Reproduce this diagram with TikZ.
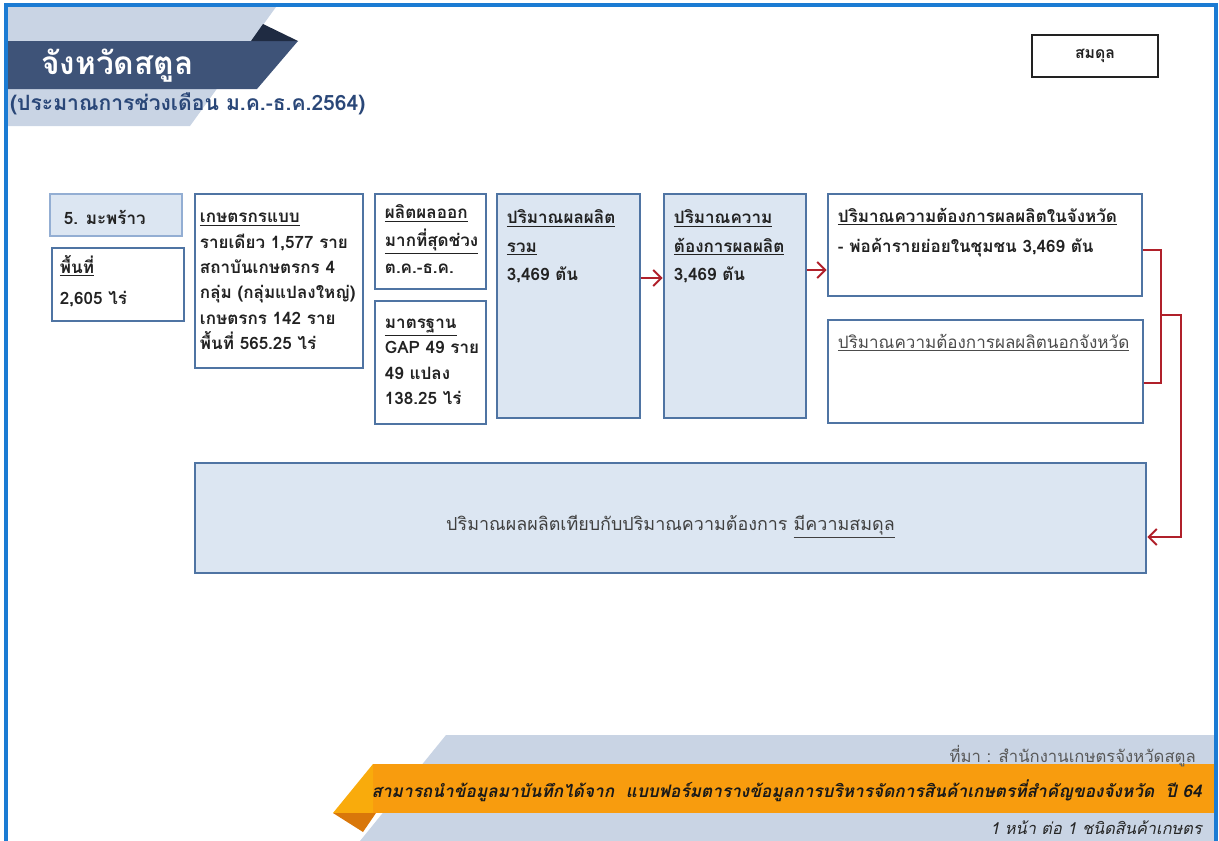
\documentclass[tikz,border=0pt]{standalone}
\usepackage{fontspec}
\newfontfamily\thaifont[Script=Thai]{Loma}
\usetikzlibrary{arrows.meta,fit}

\definecolor{framebl}{HTML}{1B7BD3}
\definecolor{bandlight}{HTML}{C9D4E4}
\definecolor{banddark}{HTML}{3E5378}
\definecolor{bandnavy}{HTML}{1F2B42}
\definecolor{subblue}{HTML}{2A4778}
\definecolor{boxbl}{HTML}{4F74A3}
\definecolor{boxpale}{HTML}{93AED3}
\definecolor{boxfill}{HTML}{DCE6F2}
\definecolor{flowred}{HTML}{B0202A}
\definecolor{txtdark}{HTML}{222222}
\definecolor{bannerorg}{HTML}{F89C0E}
\definecolor{bannerfold}{HTML}{D9770A}

\newcommand\hdr[1]{\underline{#1}}

\begin{document}
\begin{tikzpicture}[x=0.2mm, y=-0.2mm,
	every node/.style={font=\thaifont},
	box/.style={draw=boxbl, line width=1.6pt, fill=white, inner sep=0pt},
	shadebox/.style={box, fill=boxfill},
	boxtxt/.style={anchor=north west, inner sep=0pt, align=left, text=txtdark, font=\thaifont\bfseries\fontsize{9.7}{14.5}\selectfont, execute at begin node=\rule{0pt}{11pt}},
	flowline/.style={draw=flowred, line width=1.1pt},
	flow/.style={flowline, -{Straight Barb[length=1.6mm, width=3.2mm]}}]
	\useasboundingbox (0,0) rectangle (1219,841);
	
	% title banner
	\fill[bandlight] (7,7) -- (276,7) -- (190,126) -- (7,126) -- cycle;
	\fill[banddark] (7,41) -- (298,41) -- (257,89) -- (7,89) -- cycle;
	\fill[bandnavy] (251,41) -- (263,24) -- (298,41) -- cycle;
	\node[anchor=west, text=white, font=\thaifont\bfseries\fontsize{18}{22}\selectfont] (title) at (35,66) {จังหวัดสตูล};
	\node[anchor=west, text=subblue, font=\thaifont\bfseries\fontsize{12}{14}\selectfont] (period) at (4,104) {(ประมาณการช่วงเดือน ม.ค.-ธ.ค.2564)};
	\node[draw=txtdark, line width=0.8pt, minimum width=126*0.2mm, minimum height=42*0.2mm, font=\thaifont\bfseries\fontsize{9}{11}\selectfont, text=txtdark] (status) at (1095,56) {สมดุล};
	
	% boxes
	\node[box, draw=boxpale, fill=boxfill, fit={(50,194) (182,236)}] (crop) {};
	\node[box, fit={(52,248) (184,321)}] (area) {};
	\node[box, fit={(195,194) (363,368)}] (farmer) {};
	\node[box, fit={(375,194) (486,289)}] (peak) {};
	\node[box, fit={(375,301) (486,424)}] (std) {};
	\node[shadebox, fit={(497,194) (640,418)}] (supply) {};
	\node[shadebox, fit={(664,194) (806,418)}] (demand) {};
	\node[box, fit={(828,194) (1142,296)}] (inprov) {};
	\node[box, fit={(828,320) (1143,423)}] (outprov) {};
	\node[shadebox, fit={(195,463) (1146,573)}] (bal) {};
	
	\node[boxtxt, anchor=west, execute at begin node={}] at ([xshift=15*0.2mm]crop.west) {5. มะพร้าว};
	\node[boxtxt, font=\thaifont\bfseries\fontsize{9.7}{18}\selectfont] at ([shift={(9,8)}]area.north west) {\hdr{พื้นที่}\\2,605 ไร่};
	\node[boxtxt] at ([shift={(6,20)}]farmer.north west) {\hdr{เกษตรกรแบบ}\\รายเดียว 1,577 ราย\\สถาบันเกษตรกร 4\\กลุ่ม (กลุ่มแปลงใหญ่)\\เกษตรกร 142 ราย\\พื้นที่ 565.25 ไร่};
	\node[boxtxt, font=\thaifont\bfseries\fontsize{9.7}{15.5}\selectfont] at ([shift={(11,12)}]peak.north west) {\hdr{ผลิตผลออก}\\\hdr{มากที่สุดช่วง}\\ต.ค.-ธ.ค.};
	\node[boxtxt] at ([shift={(11,19)}]std.north west) {\hdr{มาตรฐาน}\\GAP 49 ราย\\49 แปลง\\138.25 ไร่};
	\node[boxtxt, font=\thaifont\bfseries\fontsize{9.7}{16}\selectfont] at ([shift={(11,17)}]supply.north west) {\hdr{ปริมาณผลผลิต}\\\hdr{รวม}\\3,469 ตัน};
	\node[boxtxt, font=\thaifont\bfseries\fontsize{9.7}{16}\selectfont] at ([shift={(11,17)}]demand.north west) {\hdr{ปริมาณความ}\\\hdr{ต้องการผลผลิต}\\3,469 ตัน};
	\node[boxtxt, font=\thaifont\bfseries\fontsize{9.7}{17}\selectfont] at ([shift={(11,15)}]inprov.north west) {\hdr{ปริมาณความต้องการผลผลิตในจังหวัด}\\- พ่อค้ารายย่อยในชุมชน 3,469 ตัน};
	\node[boxtxt, font=\thaifont\fontsize{9.7}{14.5}\selectfont, text=black!70] at ([shift={(11,10)}]outprov.north west) {\hdr{ปริมาณความต้องการผลผลิตนอกจังหวัด}};
	\node[font=\thaifont\fontsize{10.2}{12}\selectfont, text=black!75] at ([yshift=-9*0.2mm]bal.center) {ปริมาณผลผลิตเทียบกับปริมาณความต้องการ \hdr{มีความสมดุล}};
	
	% connectors
	\draw[flow] (supply.east |- 0,278) -- (demand.west |- 0,278);
	\draw[flow] (demand.east |- 0,270) -- (inprov.west |- 0,270);
	\coordinate (join) at (1161,315);
	\draw[flowline] (inprov.east |- 0,250) -| (join) |- (outprov.east |- 0,383);
	\draw[flow] (join) -- (1181,315) |- (bal.east |- 0,537);
	
	% footer banner
	\fill[bandlight] (446,735) -- (1215,735) -- (1215,841) -- (360,841) -- cycle;
	\fill[bannerorg] (373,764) -- (1215,764) -- (1215,813) -- (373,813) -- cycle;
	\fill[bannerorg!85!yellow] (373,764) -- (333,813) -- (373,813) -- cycle;
	\fill[bannerfold] (333,813) -- (376,813) -- (363,832) -- cycle;
	\node[anchor=east, text=black!65, font=\thaifont\fontsize{9.5}{11}\selectfont] (source) at (1202,756) {ที่มา : สำนักงานเกษตรจังหวัดสตูล};
	\node[anchor=east, text=black!90, font=\thaifont\bfseries\itshape\fontsize{9.8}{11}\selectfont] (note) at (1208,791) {สามารถนำข้อมูลมาบันทึกได้จาก\ \ แบบฟอร์มตารางข้อมูลการบริหารจัดการสินค้าเกษตรที่สำคัญของจังหวัด\ \ ปี 64};
	\node[anchor=east, text=black!85, font=\thaifont\itshape\fontsize{9.3}{11}\selectfont] (page) at (1208,828) {1 หน้า ต่อ 1 ชนิดสินค้าเกษตร};
	
	% frame
	\draw[framebl, line width=1.8pt] (6,841) -- (6,5) -- (1216,5) -- (1216,841);
\end{tikzpicture}
\end{document}
